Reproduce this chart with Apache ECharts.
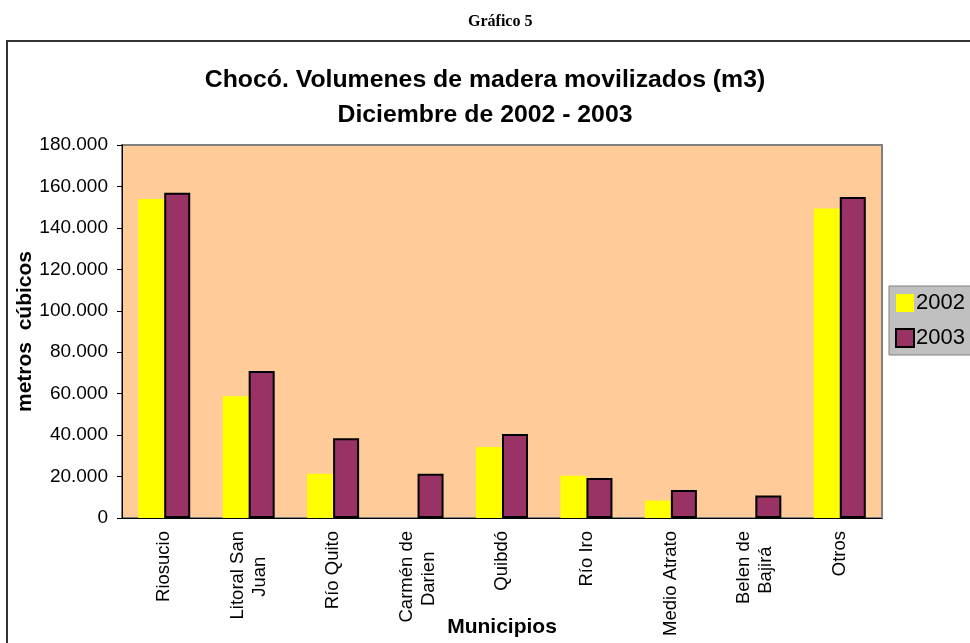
<!DOCTYPE html>
<html>
<head>
<meta charset="utf-8">
<script src="https://cdn.jsdelivr.net/npm/echarts@6/dist/echarts.min.js"></script>
<style>
  html, body { margin: 0; padding: 0; background: #fff; }
  #chart { width: 970px; height: 643px; }
</style>
</head>
<body>
<div id="chart"></div>
<script>
  // municipios y volúmenes (m3)
  var municipios = ['Riosucio', 'Litoral San\nJuan', 'Río Quito', 'Carmén de\nDarien', 'Quibdó', 'Río Iro', 'Medio Atrato', 'Belen de\nBajirá', 'Otros'];
  var vol2002 = [154000, 58700, 21400, 0, 34300, 20400, 8400, 0, 149300];
  var vol2003 = [157000, 70900, 38500, 21400, 40500, 19300, 13500, 10900, 154900];
  var yTicks = [0, 20000, 40000, 60000, 80000, 100000, 120000, 140000, 160000, 180000];

  var font = 'Liberation Sans, Arial, sans-serif';
  var xLabelSize = 18.5;

  function fmt(v) {
    if (v === 0) return '0';
    return String(v).replace(/\B(?=(\d{3})+(?!\d))/g, '.');
  }

  // centra la segunda linea de las etiquetas de dos lineas
  var ctx = document.createElement('canvas').getContext('2d');
  ctx.font = xLabelSize + 'px Liberation Sans';
  function centerLines(v) {
    var lines = v.split('\n');
    if (lines.length < 2) return v;
    var w0 = ctx.measureText(lines[0]).width;
    var sp = ctx.measureText('\u00A0').width;
    return lines.map(function (l) {
      var n = Math.round((w0 - ctx.measureText(l).width) / 2 / sp);
      return l + new Array(Math.max(0, n) + 1).join('\u00A0');
    }).join('\n');
  }

  var myChart = echarts.init(document.getElementById('chart'));
  var option = {
    animation: false,
    textStyle: { fontFamily: font, color: '#000' },
    title: [
      {
        text: 'Gráfico 5',
        left: 463,
        top: 9,
        textStyle: { fontFamily: 'Liberation Serif, serif', fontSize: 16, fontWeight: 'bold', color: '#000' }
      },
      {
        text: 'Chocó. Volumenes de madera movilizados (m3)\nDiciembre de 2002 - 2003',
        left: 'center',
        top: 58,
        textStyle: { fontFamily: font, fontSize: 24.8, fontWeight: 'bold', color: '#000', lineHeight: 35 }
      }
    ],
    graphic: [
      {
        type: 'rect',
        z: -10,
        shape: { x: 7, y: 41, width: 1000, height: 700 },
        style: { fill: 'none', stroke: '#333', lineWidth: 2 }
      }
    ],
    legend: {
      orient: 'vertical',
      left: 889,
      top: 286,
      padding: [6, 10, 6, 6],
      itemGap: 13,
      itemWidth: 18,
      itemHeight: 18,
      icon: 'rect',
      backgroundColor: '#C0C0C0',
      borderColor: '#808080',
      borderWidth: 1,
      textStyle: { fontFamily: font, fontSize: 22, color: '#000', padding: [0, 0, 0, -3] },
      data: ['2002', '2003']
    },
    grid: {
      left: 122,
      right: 88,
      top: 145,
      bottom: 125,
      outerBoundsMode: 'none',
      show: true,
      backgroundColor: '#FFCC99',
      borderColor: '#808080',
      borderWidth: 2
    },
    xAxis: {
      type: 'category',
      data: municipios,
      name: 'Municipios',
      nameLocation: 'middle',
      nameGap: 99,
      nameMoveOverlap: false,
      nameTextStyle: { fontFamily: font, fontSize: 21, fontWeight: 'bold', color: '#000' },
      axisLine: { lineStyle: { color: '#000', width: 1 } },
      axisTick: { length: 6, lineStyle: { color: '#000' } },
      axisLabel: {
        interval: 0,
        rotate: 90,
        margin: 13,
        fontSize: xLabelSize,
        lineHeight: 22,
        color: '#000',
        fontFamily: font,
        formatter: centerLines
      }
    },
    yAxis: {
      type: 'value',
      min: 0,
      max: yTicks[yTicks.length - 1],
      interval: yTicks[1] - yTicks[0],
      name: 'metros  cúbicos',
      nameLocation: 'middle',
      nameRotate: 90,
      nameGap: 86,
      nameMoveOverlap: false,
      nameTextStyle: { fontFamily: font, fontSize: 21, fontWeight: 'bold', color: '#000' },
      axisLine: { show: true, lineStyle: { color: '#000', width: 1 } },
      axisTick: { show: true, length: 5, lineStyle: { color: '#000' } },
      splitLine: { show: false },
      axisLabel: {
        fontSize: 19,
        margin: 14,
        color: '#000',
        fontFamily: font,
        formatter: fmt
      }
    },
    series: [
      {
        name: '2002',
        type: 'bar',
        data: vol2002,
        barWidth: 26,
        barGap: '0%',
        itemStyle: { color: '#FFFF00' }
      },
      {
        name: '2003',
        type: 'bar',
        data: vol2003,
        barWidth: 26,
        barGap: '0%',
        itemStyle: { color: '#993366', borderColor: '#000', borderWidth: 2 }
      }
    ]
  };
  myChart.setOption(option);
  window.addEventListener('resize', function () {
    myChart.resize();
  });
</script>
</body>
</html>
